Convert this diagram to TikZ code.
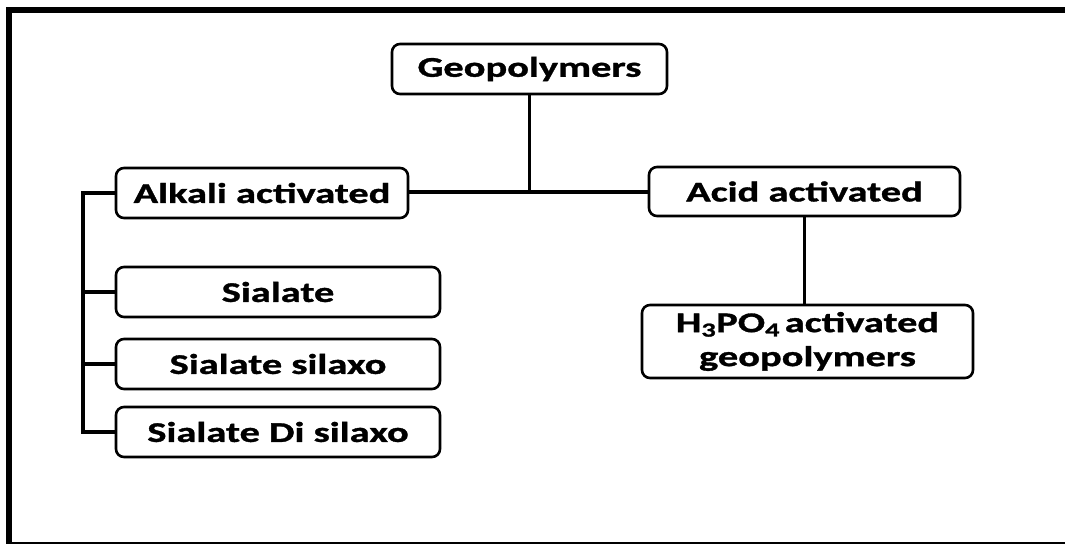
\documentclass[tikz,border=0pt]{standalone}
\usepackage{fontspec}
\setmainfont{Carlito}[FakeStretch=1.42,FakeBold=1.2]
\begin{document}
\begin{tikzpicture}[x=1pt,y=-1pt,
  box/.style={draw=black, line width=2.6pt, rounded corners=8pt, fill=white,
    inner sep=0pt, align=center, minimum height=50pt,
    font=\fontsize{28.5}{34}\selectfont\bfseries},
  conn/.style={draw=black, line width=3.2pt}]
\useasboundingbox (0,0) rectangle (1065,544);
% frame
\draw[line width=6pt] (6,10) -- (1065,10);
\draw[line width=6pt] (9,7) -- (9,544);
\draw[line width=2pt] (6,543) -- (1065,543);
% nodes
\node[box, minimum width=275pt] (geo) at (529.5,69) {Geopolymers};
\node[box, minimum width=292pt] (alk) at (262,193) {Alkali activated};
\node[box, minimum width=311pt, minimum height=49pt] (acid) at (804.5,191.5) {Acid activated};
\node[box, minimum width=331pt, minimum height=73pt] (h3) at (807.5,341.5)
  {H\textsubscript{3}PO\textsubscript{4}\,activated\\geopolymers};
\node[box, minimum width=324pt] (s1) at (278,292) {Sialate};
\node[box, minimum width=324pt] (s2) at (278,364) {Sialate silaxo};
\node[box, minimum width=324pt] (s3) at (278,432) {Sialate Di silaxo};
\coordinate (bus) at (83,193);
\coordinate (mid) at (529.5,192);
% connectors
\draw[conn] (geo.south) -- (mid);
\draw[conn] (alk.east |- mid) -- (acid.west |- mid);
\draw[conn] (acid.south) -- (acid.south |- h3.north);
\draw[conn] (alk.west) -- (bus) |- (s3.west);
\draw[conn] (s1.west) -- (s1.west -| bus);
\draw[conn] (s2.west) -- (s2.west -| bus);
\end{tikzpicture}
\end{document}
